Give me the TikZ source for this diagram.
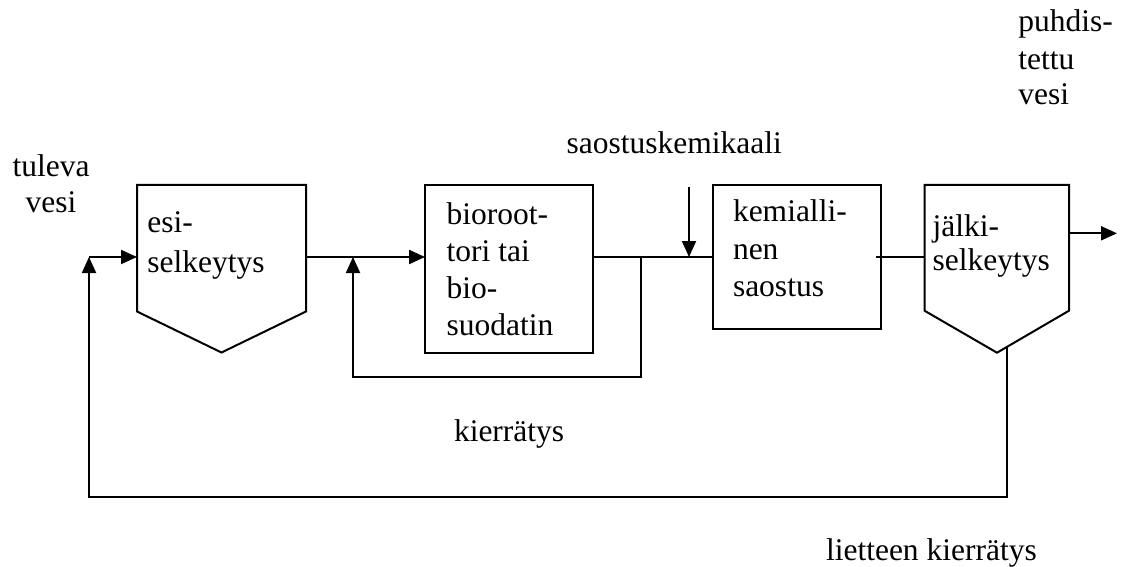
\documentclass[tikz,border=0pt]{standalone}
\usepackage{fontspec}
\setmainfont{Liberation Serif}
\usetikzlibrary{arrows.meta}
\begin{document}
\begin{tikzpicture}[x=1pt,y=-1pt,
  ln/.style={line width=2pt,line join=miter},
  arr/.style={ln,-{Triangle[length=16pt,width=14pt]}},
  box/.style={ln,draw,rectangle,inner sep=0pt,outer sep=0pt},
  lbl/.style={inner sep=0pt,outer sep=0pt,anchor=base west,font=\fontsize{31.5}{37}\selectfont},
  lblc/.style={lbl,anchor=base}]
\useasboundingbox (0,0) rectangle (1125,567);
% clarifier shapes
\coordinate (esiNW) at (137,185);
\coordinate (esiNE) at (306,185);
\coordinate (esiSE) at (306,311.5);
\coordinate (esiS) at (221.5,352.5);
\coordinate (esiSW) at (137,311.5);
\coordinate (esiW) at (137,257);
\coordinate (esiE) at (306,257);
\draw[ln] (esiNW) -- (esiNE) -- (esiSE) -- (esiS) -- (esiSW) -- cycle;
\coordinate (jalNW) at (924.5,185);
\coordinate (jalNE) at (1069,185);
\coordinate (jalSE) at (1069,310.7);
\coordinate (jalS) at (997,352.7);
\coordinate (jalSW) at (924.5,310.7);
\coordinate (jalW) at (924.5,257);
\coordinate (jalE) at (1069,233.3);
\coordinate (jalOut) at (1006.5,347.2);
\draw[ln] (jalNW) -- (jalNE) -- (jalSE) -- (jalS) -- (jalSW) -- cycle;
% rectangular units
\node[box,minimum width=168.3pt,minimum height=167.7pt] (bio) at (509.2,268.9) {};
\node[box,minimum width=168.5pt,minimum height=144pt] (kem) at (796.75,257) {};
% junction coordinates
\coordinate (inJ) at (89,257);
\coordinate (botL) at (89,497);
\coordinate (botR) at (1006.5,497);
\coordinate (recJ) at (353,257);
\coordinate (recBL) at (353,377);
\coordinate (recBR) at (641,377);
\coordinate (brJ) at (641,257);
\coordinate (chemTop) at (689,187);
\coordinate (chemJ) at (689,257);
\coordinate (outEnd) at (1117,233.3);
% connectors
\draw[arr] (inJ) -- (esiW);
\draw[arr] (jalOut) -- (botR) -- (botL) -- (inJ);
\draw[arr] (esiE) -- (bio.west |- esiE);
\draw[arr] (brJ) -- (recBR) -- (recBL) -- (recJ);
\draw[ln] (bio.east |- brJ) -- (kem.west |- brJ);
\draw[arr] (chemTop) -- (chemJ);
\draw[ln] (876,257) coordinate (kemOut) -- (jalW);
\draw[arr] (jalE) -- (outEnd);
% labels
\node[lblc] (t1) at (51,176) {tuleva};
\node[lblc] (t2) at (51,212) {vesi};
\node[lbl] (e1) at (147.3,233) {esi-};
\node[lbl] (e2) at (147.3,272) {selkeytys};
\node[lbl] (b1) at (446.7,224) {bioroot-};
\node[lbl] (b2) at (446.7,261.7) {tori tai};
\node[lbl] (b3) at (446.7,298) {bio-};
\node[lbl] (b4) at (446.7,335) {suodatin};
\node[lbl] (k1) at (733,222) {kemialli-};
\node[lbl] (k2) at (733,259.5) {nen};
\node[lbl] (k3) at (733,296.7) {saostus};
\node[lbl] (j1) at (932.7,236.7) {jälki-};
\node[lbl] (j2) at (932.7,270.7) {selkeytys};
\node[lbl] (p1) at (1018.3,32) {puhdis-};
\node[lbl] (p2) at (1018.3,70) {tettu};
\node[lbl] (p3) at (1018.3,105) {vesi};
\node[lbl] (sk) at (566.7,153.3) {saostuskemikaali};
\node[lbl] (kr) at (454,441.7) {kierrätys};
\node[lbl] (lk) at (826,560) {lietteen kierrätys};
\end{tikzpicture}
\end{document}
